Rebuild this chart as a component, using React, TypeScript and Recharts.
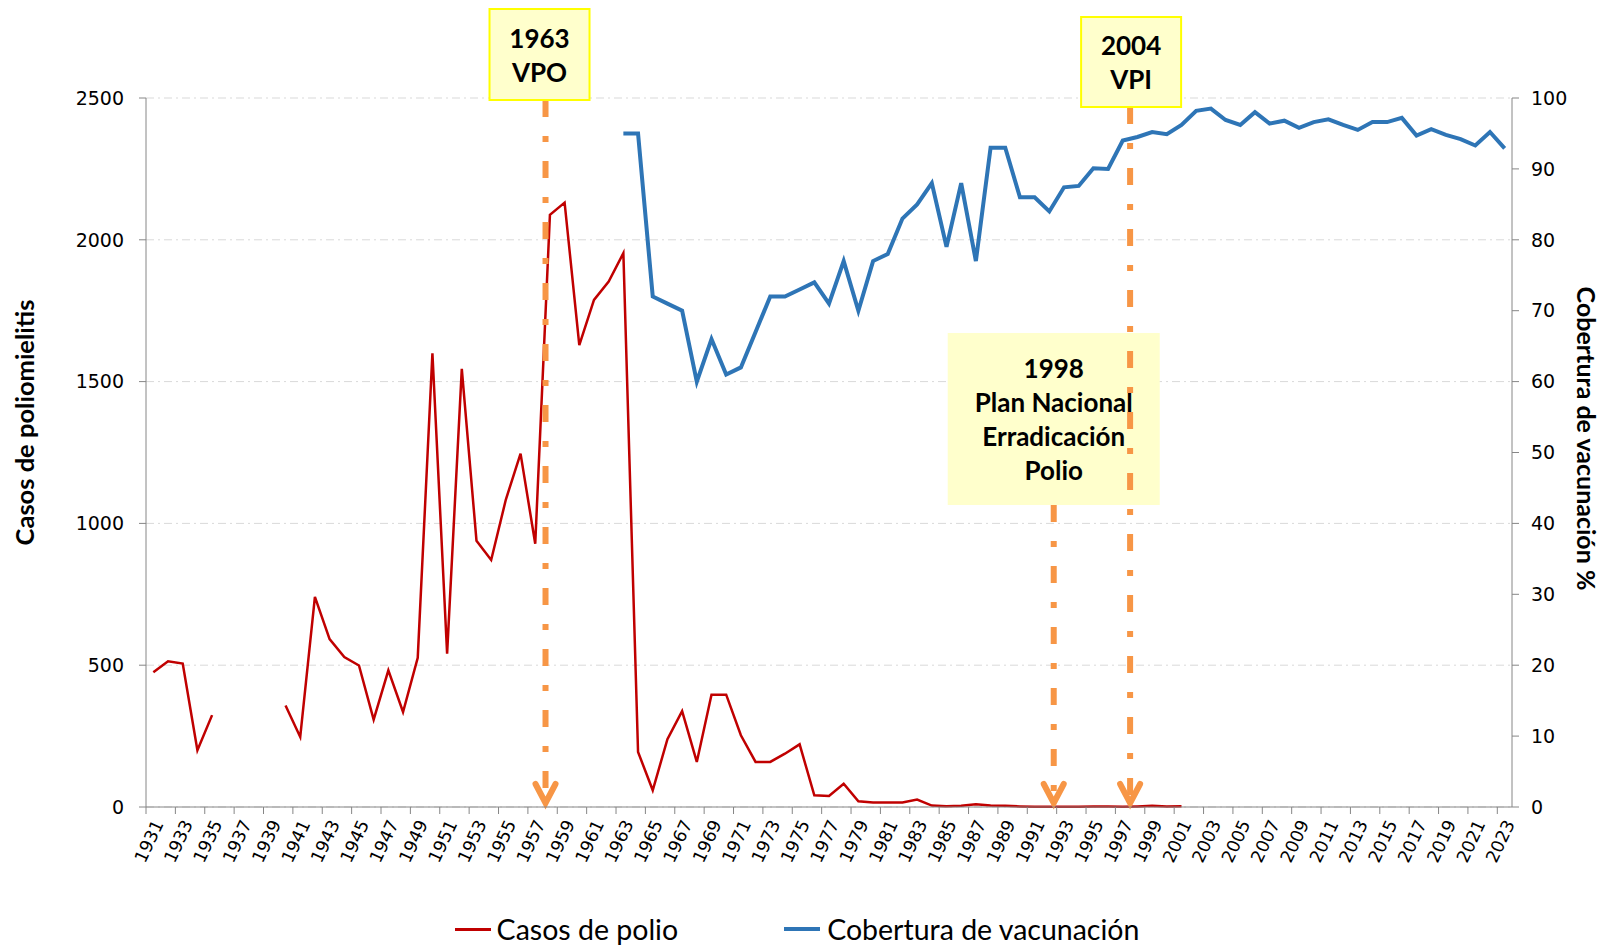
import React from 'react';
import { ComposedChart, Line, XAxis, YAxis, CartesianGrid, ReferenceLine, Legend } from 'recharts';

// años 1931..2023
const years: number[] = Array.from({ length: 93 }, (_, i) => 1931 + i);

// casos de poliomielitis (null = sin dato)
const casos: (number | null)[] = [
  475, 514, 506, 200, 324, null, null, null, null, 358,
  247, 741, 592, 529, 499, 308, 482, 335, 526, 1600,
  541, 1545, 939, 871, 1084, 1246, 928, 2088, 2131, 1629,
  1788, 1853, 1953, 194, 59, 239, 338, 159, 396, 396,
  253, 159, 159, 188, 221, 41, 39, 82, 20, 16,
  16, 16, 26, 5, 3, 4, 10, 5, 4, 2,
  1, 1, 1, 1, 2, 2, 1, 2, 4, 2,
  3, null, null, null, null, null, null, null, null, null,
  null, null, null, null, null, null, null, null, null, null,
  null, null, null,
];

// cobertura de vacunación % (desde 1963)
const cobertura: (number | null)[] = [
  ...Array(32).fill(null),
  95, 95, 72, 71, 70, 60, 66, 61, 62, 67,
  72, 72, 73, 74, 71, 77, 70, 77, 78, 83,
  85, 88, 79, 88, 77, 93, 93, 86, 86, 84,
  87.4, 87.6, 90.1, 90, 94, 94.5, 95.2, 94.9, 96.2, 98.2,
  98.5, 96.9, 96.2, 98, 96.4, 96.8, 95.8, 96.6, 97, 96.2,
  95.5, 96.6, 96.6, 97.2, 94.7, 95.6, 94.8, 94.2, 93.3, 95.2,
  92.9,
];

const tickYears = years.filter((_, i) => i % 2 === 0);
const leftTicks = [0, 500, 1000, 1500, 2000, 2500];
const rightTicks = [0, 10, 20, 30, 40, 50, 60, 70, 80, 90, 100];

// anotaciones (posición de la flecha en años del eje)
const annotations = [
  { at: 1957.7, lines: ['1963', 'VPO'], dx: -6, top: -89, w: 100, h: 91, border: true },
  { at: 1992.3, lines: ['1998', 'Plan Nacional', 'Erradicación', 'Polio'], dx: 0, top: 235, w: 212, h: 172, border: false },
  { at: 1997.5, lines: ['2004', 'VPI'], dx: 1, top: -81, w: 100, h: 90, border: true },
];

const data = years.map((year, i) => ({ year, casos: casos[i], cobertura: cobertura[i] }));

const W = 1604;
const H = 945;
const PLOT_LEFT = 146;
const PLOT_RIGHT = 1512;
const halfStep = (PLOT_RIGHT - PLOT_LEFT) / years.length / 2;

const ORANGE = '#F79646';
const labelFont = 'Lato, "Open Sans", sans-serif';
const tickFont = '"DejaVu Sans", Verdana, sans-serif';

const YearTick = (props: any) => {
  const { x, y, payload } = props;
  const ax = x + 5;
  const ay = y + 14;
  return (
    <g>
      <line x1={x - halfStep} x2={x - halfStep} y1={y} y2={y + 7} stroke="#868686" />
      <text
        x={ax}
        y={ay}
        dy="0.35em"
        textAnchor="end"
        transform={`rotate(-65 ${ax} ${ay})`}
        fontFamily={tickFont}
        fontSize={17.5}
        fill="#000"
      >
        {payload.value}
      </text>
    </g>
  );
};

const makeArrow = (a: typeof annotations[number]) => (props: any) => {
  const x = props.x1;
  const top = Math.min(props.y1, props.y2);
  const bottom = Math.max(props.y1, props.y2);
  const boxX = x + a.dx - a.w / 2;
  const boxY = top + a.top;
  const lineTop = boxY + a.h;
  const tip = bottom - 4;
  const lineH = 34;
  const firstY = boxY + a.h / 2 - ((a.lines.length - 1) * lineH) / 2;
  return (
    <g>
      <line x1={x} x2={x} y1={lineTop} y2={tip - 6} stroke={ORANGE} strokeWidth={6} strokeDasharray="17 19 6 19" />
      <polyline
        points={`${x - 10},${tip - 19} ${x},${tip} ${x + 10},${tip - 19}`}
        fill="none"
        stroke={ORANGE}
        strokeWidth={6}
        strokeLinecap="round"
        strokeLinejoin="miter"
      />
      <rect
        x={boxX}
        y={boxY}
        width={a.w}
        height={a.h}
        fill="#FFFFCC"
        stroke={a.border ? '#FFFF00' : 'none'}
        strokeWidth={2}
      />
      {a.lines.map((t, i) => (
        <text
          key={t}
          x={boxX + a.w / 2}
          y={firstY + i * lineH}
          textAnchor="middle"
          dominantBaseline="central"
          fontFamily={labelFont}
          fontWeight="bold"
          fontSize={26}
          fill="#000"
        >
          {t}
        </text>
      ))}
    </g>
  );
};

const renderLegend = () => (
  <div
    style={{
      display: 'flex',
      justifyContent: 'center',
      alignItems: 'center',
      gap: 106,
      paddingTop: 8,
      paddingRight: 10,
      fontFamily: labelFont,
      fontSize: 28.5,
      color: '#000',
      lineHeight: '32px',
    }}
  >
    <span style={{ display: 'flex', alignItems: 'center' }}>
      <span style={{ display: 'inline-block', width: 36, height: 3, background: '#C00000', marginRight: 6 }} />
      Casos de polio
    </span>
    <span style={{ display: 'flex', alignItems: 'center' }}>
      <span style={{ display: 'inline-block', width: 36, height: 4, background: '#2E75B6', marginRight: 7 }} />
      Cobertura de vacunación
    </span>
  </div>
);

export default function App() {
  return (
    <div style={{ width: W, height: H }}>
      <style>{'body{margin:0;overflow:hidden}'}</style>
      <ComposedChart width={W} height={H} data={data} margin={{ top: 98, right: 0, bottom: 0, left: 0 }}>
        <CartesianGrid
          yAxisId="left"
          vertical={false}
          stroke="#D9D9D9"
          strokeDasharray="8 4 2 4"
        />
        <XAxis
          dataKey="year"
          type="number"
          domain={[1930.5, 2023.5]}
          ticks={tickYears}
          interval={0}
          height={98}
          tickSize={0}
          tickMargin={0}
          tickLine={false}
          axisLine={{ stroke: '#868686' }}
          tick={<YearTick />}
        />
        <YAxis
          yAxisId="left"
          domain={[0, 2500]}
          ticks={leftTicks}
          width={146}
          tickSize={7}
          tickMargin={15}
          stroke="#868686"
          tick={{ fill: '#000', fontSize: 19, fontFamily: tickFont }}
          label={(p: any) => {
            const vb = p.viewBox;
            const cx = vb.x + 24;
            const cy = vb.y + vb.height / 2 - 30;
            return (
              <text
                x={cx}
                y={cy}
                transform={`rotate(-90 ${cx} ${cy})`}
                textAnchor="middle"
                dominantBaseline="central"
                fontFamily={labelFont}
                fontWeight="bold"
                fontSize={25.5}
                fill="#000"
              >
                Casos de poliomielitis
              </text>
            );
          }}
        />
        <YAxis
          yAxisId="right"
          orientation="right"
          domain={[0, 100]}
          ticks={rightTicks}
          width={92}
          tickSize={7}
          tickMargin={12}
          stroke="#868686"
          tick={{ fill: '#000', fontSize: 19, fontFamily: tickFont }}
          label={(p: any) => {
            const vb = p.viewBox;
            const cx = vb.x + 75;
            const cy = vb.y + vb.height / 2 - 14;
            return (
              <text
                x={cx}
                y={cy}
                transform={`rotate(90 ${cx} ${cy})`}
                textAnchor="middle"
                dominantBaseline="central"
                fontFamily={labelFont}
                fontWeight="bold"
                fontSize={25}
                fill="#000"
              >
                Cobertura de vacunación %
              </text>
            );
          }}
        />
        <Line
          yAxisId="left"
          type="linear"
          dataKey="casos"
          stroke="#C00000"
          strokeWidth={2.5}
          dot={false}
          activeDot={false}
          isAnimationActive={false}
        />
        <Line
          yAxisId="right"
          type="linear"
          dataKey="cobertura"
          stroke="#2E75B6"
          strokeWidth={4}
          dot={false}
          activeDot={false}
          isAnimationActive={false}
        />
        {annotations.map((a) => (
          <ReferenceLine key={a.lines[0]} yAxisId="left" x={a.at} shape={makeArrow(a)} ifOverflow="visible" />
        ))}
        <Legend verticalAlign="bottom" height={40} content={renderLegend} />
      </ComposedChart>
    </div>
  );
}
